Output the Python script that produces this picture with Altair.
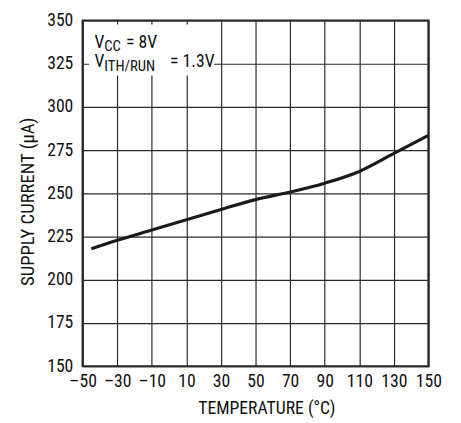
import altair as alt
import pandas as pd

# Data
temps = [-45, -30, -10, 10, 30, 50, 70, 90, 110, 130, 150]
current = [218.0, 222.9, 228.8, 234.7, 240.7, 246.4, 250.8, 255.9, 262.7, 273.1, 283.5]

x_ticks = [-50, -30, -10, 10, 30, 50, 70, 90, 110, 130, 150]
y_ticks = [150, 175, 200, 225, 250, 275, 300, 325, 350]

# Annotation text pieces
ann_text = ["V", "CC", "= 8V", "V", "ITH/RUN", "= 1.3V"]
ann_y = [334.3, 334.3, 334.3, 322.9, 322.9, 322.9]
ann_sub = [False, True, False, False, True, False]
ann_dx = [12, 22, 44, 12, 22, 89]

# White box behind the annotation
box = pd.DataFrame({"x": [-46.2], "x2": [26.0], "y": [318.2], "y2": [347.7]})

FONT = "Roboto Condensed"
INK = "#111111"
GRID = "#2a2a2a"

df = pd.DataFrame({"t": temps, "i": current})
ann = pd.DataFrame({"text": ann_text, "y": ann_y, "sub": ann_sub, "dx": ann_dx})
ann["x"] = -50

xscale = alt.Scale(domain=[-50, 150], nice=False, zero=False)
yscale = alt.Scale(domain=[150, 350], nice=False, zero=False)

xaxis = alt.Axis(values=x_ticks, title="TEMPERATURE (°C)", labelExpr="replace(datum.label, '−', '–')",
                 ticks=False, domain=False, labelPadding=7, labelFontSize=18, labelOverlap=False,
                 labelFont=FONT, titleFont=FONT, labelColor=INK, titleColor=INK,
                 titleFontSize=18, titleFontWeight="normal", titleX=187, titleY=48,
                 titleBaseline="alphabetic", titleAlign="center",
                 grid=True, gridColor=GRID, gridWidth=1.2, gridOpacity=1, labelFlush=False)
yaxis = alt.Axis(values=y_ticks, title="SUPPLY CURRENT (µA)", ticks=False, domain=False,
                 labelPadding=10, labelFontSize=18, labelOverlap=False,
                 labelFont=FONT, titleFont=FONT, labelColor=INK, titleColor=INK,
                 titleFontSize=19, titleFontWeight="normal",
                 titleX=-50, titleY=184, titleAngle=270, titleBaseline="alphabetic", titleAlign="center",
                 grid=True, gridColor=GRID, gridWidth=1.2, gridOpacity=1, labelFlush=False)

line = alt.Chart(df).mark_line(color="#1a1a1a", strokeWidth=3.2, interpolate="monotone").encode(
    x=alt.X("t:Q", scale=xscale, axis=xaxis, title="TEMPERATURE (°C)"),
    y=alt.Y("i:Q", scale=yscale, axis=yaxis, title="SUPPLY CURRENT (µA)"),
)

rect = alt.Chart(box).mark_rect(color="white", opacity=1).encode(
    x=alt.X("x:Q", scale=xscale, axis=xaxis, title="TEMPERATURE (°C)"), x2="x2",
    y=alt.Y("y:Q", scale=yscale, axis=yaxis, title="SUPPLY CURRENT (µA)"), y2="y2"
)

layers = [line, rect]
for _, r in ann.iterrows():
    t = alt.Chart(pd.DataFrame([r])).mark_text(
        align="left", baseline="alphabetic", font=FONT, color=INK,
        fontSize=15 if r["sub"] else 18, dx=int(r["dx"]), dy=3.5 if r["sub"] else 0,
    ).encode(x=alt.X("x:Q", scale=xscale, axis=xaxis, title="TEMPERATURE (°C)"),
             y=alt.Y("y:Q", scale=yscale, axis=yaxis, title="SUPPLY CURRENT (µA)"), text="text:N")
    layers.append(t)

chart = alt.layer(*layers).properties(
    width=352, height=352, background="white",
    autosize=alt.AutoSizeParams(type="none"),
    padding={"left": 76, "top": 9, "right": 25, "bottom": 54},
).configure_view(stroke="#222222", strokeWidth=2.2)

chart.save("out.html", embed_options={"renderer": "svg", "actions": False})
